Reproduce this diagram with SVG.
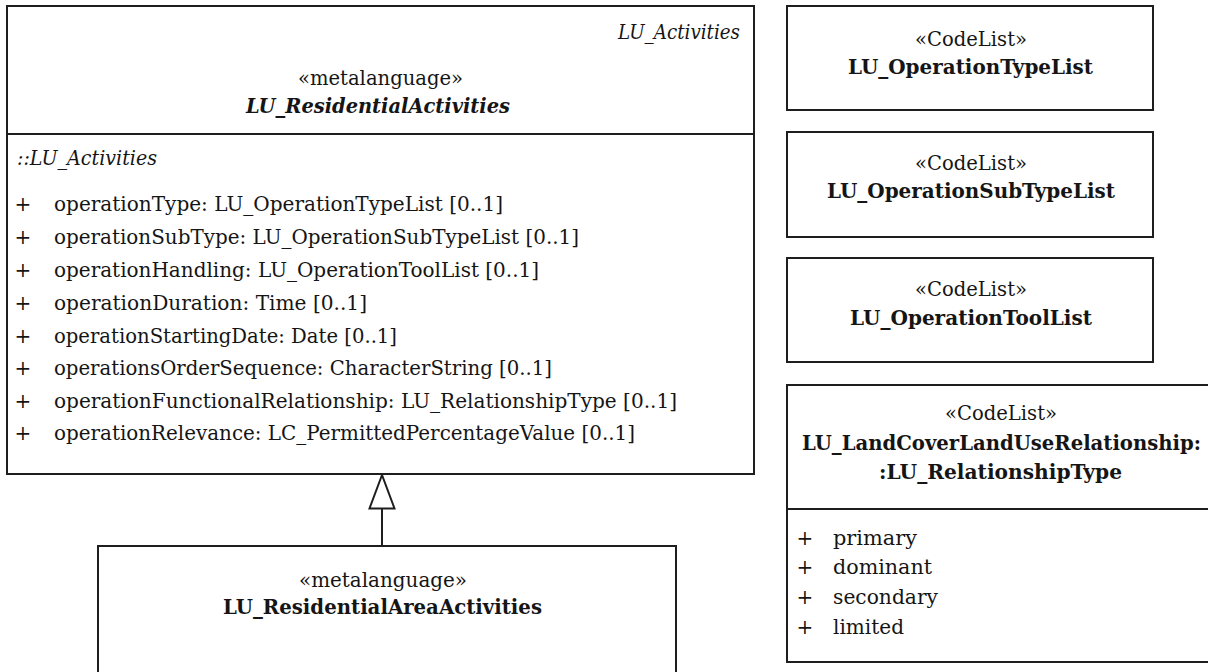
<svg xmlns="http://www.w3.org/2000/svg" width="1208" height="672" viewBox="0 0 1208 672">
  <style>
    .box { fill: #ffffff; stroke: #1e1e1e; stroke-width: 2; }
    .sep { stroke: #1e1e1e; stroke-width: 2; }
    .edge { stroke: #1e1e1e; stroke-width: 2; fill: none; }
    text { font-family: "DejaVu Serif", "Liberation Serif", serif; font-size: 20px; fill: #151515; }
    .it { font-style: italic; }
    .b { font-weight: bold; }
    .bi { font-weight: bold; font-style: italic; }
    .pm { text-anchor: middle; }
  </style>
  <defs>
    <!-- hollow triangle for generalization, tip at the line end -->
    <marker id="gen" viewBox="0 0 36 28" refX="35" refY="14" markerWidth="36" markerHeight="28" markerUnits="userSpaceOnUse" orient="auto">
      <path d="M35 14 L1.5 1.5 L1.5 26.5 Z" fill="#ffffff" stroke="#1e1e1e" stroke-width="2" stroke-linejoin="miter"/>
    </marker>
  </defs>

  <rect width="1208" height="672" fill="#ffffff"/>

  <!-- abstract metaclass with inherited attributes -->
  <g id="LU_ResidentialActivities">
    <rect class="box" x="7" y="6" width="747" height="468"/>
    <line class="sep" x1="7" y1="134" x2="754" y2="134"/>
    <text class="it" x="618" y="39" textLength="122" lengthAdjust="spacingAndGlyphs">LU_Activities</text>
    <text x="298" y="85" textLength="165" lengthAdjust="spacingAndGlyphs">«metalanguage»</text>
    <text class="bi" x="246" y="113" textLength="264" lengthAdjust="spacingAndGlyphs">LU_ResidentialActivities</text>
    <text class="it" x="17" y="165" textLength="140" lengthAdjust="spacingAndGlyphs">::LU_Activities</text>
    <g>
      <text class="pm" x="23" y="211">+</text>
      <text x="54" y="211" textLength="449" lengthAdjust="spacingAndGlyphs">operationType: LU_OperationTypeList [0..1]</text>
      <text class="pm" x="23" y="244">+</text>
      <text x="54" y="244" textLength="525" lengthAdjust="spacingAndGlyphs">operationSubType: LU_OperationSubTypeList [0..1]</text>
      <text class="pm" x="23" y="277">+</text>
      <text x="54" y="277" textLength="485" lengthAdjust="spacingAndGlyphs">operationHandling: LU_OperationToolList [0..1]</text>
      <text class="pm" x="23" y="310">+</text>
      <text x="54" y="310" textLength="313" lengthAdjust="spacingAndGlyphs">operationDuration: Time [0..1]</text>
      <text class="pm" x="23" y="343">+</text>
      <text x="54" y="343" textLength="343" lengthAdjust="spacingAndGlyphs">operationStartingDate: Date [0..1]</text>
      <text class="pm" x="23" y="375">+</text>
      <text x="54" y="375" textLength="498" lengthAdjust="spacingAndGlyphs">operationsOrderSequence: CharacterString [0..1]</text>
      <text class="pm" x="23" y="408">+</text>
      <text x="54" y="408" textLength="623" lengthAdjust="spacingAndGlyphs">operationFunctionalRelationship: LU_RelationshipType [0..1]</text>
      <text class="pm" x="23" y="440">+</text>
      <text x="54" y="440" textLength="581" lengthAdjust="spacingAndGlyphs">operationRelevance: LC_PermittedPercentageValue [0..1]</text>
    </g>
  </g>

  <!-- concrete subclass -->
  <g id="LU_ResidentialAreaActivities">
    <rect class="box" x="98" y="546" width="578" height="136"/>
    <text x="299" y="587" textLength="168" lengthAdjust="spacingAndGlyphs">«metalanguage»</text>
    <text class="b" x="223" y="614" textLength="319" lengthAdjust="spacingAndGlyphs">LU_ResidentialAreaActivities</text>
  </g>

  <!-- code lists -->
  <g id="LU_OperationTypeList">
    <rect class="box" x="787" y="6" width="366" height="104"/>
    <text x="915" y="46" textLength="112" lengthAdjust="spacingAndGlyphs">«CodeList»</text>
    <text class="b" x="848" y="74" textLength="245" lengthAdjust="spacingAndGlyphs">LU_OperationTypeList</text>
  </g>

  <g id="LU_OperationSubTypeList">
    <rect class="box" x="787" y="132" width="366" height="105"/>
    <text x="915" y="170" textLength="112" lengthAdjust="spacingAndGlyphs">«CodeList»</text>
    <text class="b" x="827" y="198" textLength="288" lengthAdjust="spacingAndGlyphs">LU_OperationSubTypeList</text>
  </g>

  <g id="LU_OperationToolList">
    <rect class="box" x="787" y="258" width="366" height="104"/>
    <text x="915" y="296" textLength="112" lengthAdjust="spacingAndGlyphs">«CodeList»</text>
    <text class="b" x="850" y="325" textLength="242" lengthAdjust="spacingAndGlyphs">LU_OperationToolList</text>
  </g>

  <g id="LU_RelationshipType">
    <rect class="box" x="787" y="385" width="430" height="277"/>
    <line class="sep" x1="787" y1="509" x2="1217" y2="509"/>
    <text x="945" y="420" textLength="112" lengthAdjust="spacingAndGlyphs">«CodeList»</text>
    <text class="b" x="802" y="450" textLength="399" lengthAdjust="spacingAndGlyphs">LU_LandCoverLandUseRelationship:</text>
    <text class="b" x="879" y="479" textLength="243" lengthAdjust="spacingAndGlyphs">:LU_RelationshipType</text>
    <text class="pm" x="805" y="545">+</text>
    <text x="833" y="545" textLength="84" lengthAdjust="spacingAndGlyphs">primary</text>
    <text class="pm" x="805" y="574">+</text>
    <text x="833" y="574" textLength="99" lengthAdjust="spacingAndGlyphs">dominant</text>
    <text class="pm" x="805" y="604">+</text>
    <text x="833" y="604" textLength="105" lengthAdjust="spacingAndGlyphs">secondary</text>
    <text class="pm" x="805" y="634">+</text>
    <text x="833" y="634" textLength="71" lengthAdjust="spacingAndGlyphs">limited</text>
  </g>

  <!-- generalization -->
  <g id="connectors">
    <line class="edge" x1="382" y1="546" x2="382" y2="475" marker-end="url(#gen)"/>
  </g>
</svg>
